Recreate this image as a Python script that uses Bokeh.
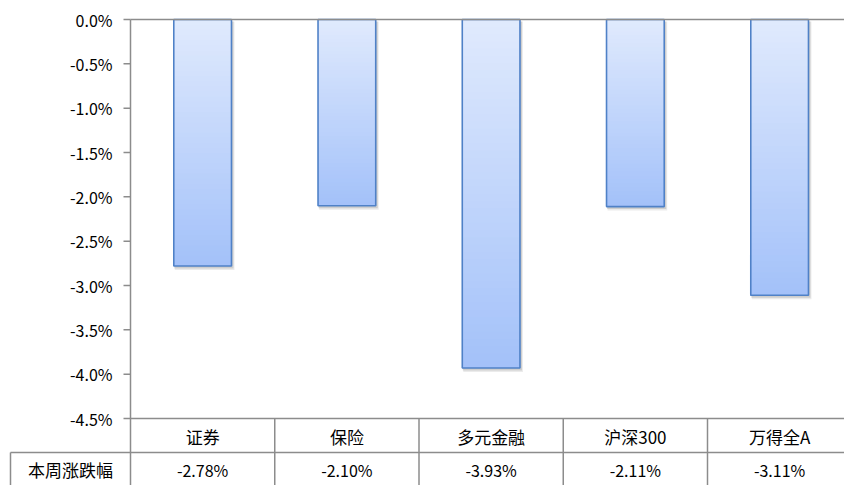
import numpy as np
from bokeh.plotting import figure
from bokeh.models import Range1d
from bokeh.embed import file_html
from bokeh.resources import INLINE
from bokeh.core.properties import value

# ---------------- data ----------------
categories = ["证券", "保险", "多元金融", "沪深300", "万得全A"]
changes = [-2.78, -2.10, -3.93, -2.11, -3.11]
row_label = "本周涨跌幅"
y_ticks = [0.0, -0.5, -1.0, -1.5, -2.0, -2.5, -3.0, -3.5, -4.0, -4.5]

# ---------------- geometry ----------------
W, H = 844, 485
PAGE_LEFT, PAGE_TOP = 0, 0
AXIS_X_PAGE, ZERO_Y_PAGE = 130, 19
PX_CAT = 144.25          # pixels per category
PX_PCT = 399 / 4.5       # pixels per 1 %

def dx(px):
    return px / PX_CAT

def dy(px):
    return px / PX_PCT

x_start = dx(PAGE_LEFT - AXIS_X_PAGE)
x_end = dx(PAGE_LEFT + W - AXIS_X_PAGE)
y_end = dy(ZERO_Y_PAGE - PAGE_TOP)
y_start = -dy(PAGE_TOP + H - ZERO_Y_PAGE)

FONT = value("Noto Sans CJK SC")
LINE = "#8c8c8c"
LW = 1.5

p = figure(width=W, height=H, output_backend="svg", toolbar_location=None,
           x_range=Range1d(x_start, x_end), y_range=Range1d(y_start, y_end),
           x_axis_location=None, y_axis_location=None,
           min_border=0, min_border_left=0, min_border_right=0,
           min_border_top=0, min_border_bottom=0)
p.outline_line_color = None
p.xgrid.visible = False
p.ygrid.visible = False
p.background_fill_color = "white"
p.border_fill_color = "white"

n = len(categories)
axis_bottom = min(y_ticks)
row_div = axis_bottom - dy(34)
row1_c = axis_bottom - dy(18)
row2_c = axis_bottom - dy(51)
tbl_left = dx(-120)

# ---------------- bars ----------------
half = 0.2
centers = [i + 0.5 for i in range(n)]

# shadow
p.quad(left=[c - half + dx(1) for c in centers], right=[c + half + dx(3) for c in centers],
       top=[-dy(2) for _ in centers], bottom=[v - dy(4) for v in changes],
       fill_color="#000000", fill_alpha=0.08, line_color=None)
p.quad(left=[c - half + dx(0.5) for c in centers], right=[c + half + dx(2) for c in centers],
       top=[-dy(2) for _ in centers], bottom=[v - dy(2.5) for v in changes],
       fill_color="#000000", fill_alpha=0.12, line_color=None)

top_rgb = np.array([0xe0, 0xea, 0xfd])
bot_rgb = np.array([0xa3, 0xc1, 0xf9])
N = 48
L, R, T, B, C = [], [], [], [], []
for c, v in zip(centers, changes):
    edges = np.linspace(0, v, N + 1)
    for k in range(N):
        t = (k + 0.5) / N
        rgb = (top_rgb * (1 - t) + bot_rgb * t).round().astype(int)
        L.append(c - half)
        R.append(c + half)
        T.append(edges[k])
        B.append(v)
        C.append("#%02x%02x%02x" % tuple(rgb))
p.quad(left=L, right=R, top=T, bottom=B, fill_color=C, line_color=None)
p.quad(left=[c - half for c in centers], right=[c + half for c in centers],
       top=[0 for _ in centers], bottom=changes,
       fill_color=None, line_color="#4f81c7", line_width=1.6)

# ---------------- axis & table lines ----------------
tick_len = dx(7)
# y axis line
p.segment(x0=[0], y0=[0], x1=[0], y1=[y_start], line_color=LINE, line_width=LW)
# ticks
p.segment(x0=[-tick_len] * len(y_ticks), y0=y_ticks, x1=[0] * len(y_ticks), y1=y_ticks,
          line_color=LINE, line_width=LW)
# top zero line and bottom axis line
p.segment(x0=[0, 0], y0=[0, axis_bottom], x1=[x_end, x_end], y1=[0, axis_bottom],
          line_color=LINE, line_width=LW)
# table row divider
p.segment(x0=[tbl_left], y0=[row_div], x1=[x_end], y1=[row_div], line_color=LINE, line_width=LW)
# table left border
p.segment(x0=[tbl_left], y0=[row_div], x1=[tbl_left], y1=[y_start], line_color=LINE, line_width=LW)
# category separators
seps = list(range(1, n + 1))
p.segment(x0=seps, y0=[axis_bottom] * len(seps), x1=seps, y1=[y_start] * len(seps),
          line_color=LINE, line_width=LW)

# ---------------- texts ----------------
p.text(x=[-dx(18)] * len(y_ticks), y=y_ticks, text=["%.1f%%" % t for t in y_ticks],
       text_font=FONT, text_font_size="16px", text_align="right", text_baseline="middle",
       text_color="#000000")
p.text(x=centers, y=[row1_c] * n, text=categories,
       text_font=FONT, text_font_size="17px", text_align="center", text_baseline="middle",
       text_color="#000000")
p.text(x=centers, y=[row2_c] * n, text=["%.2f%%" % v for v in changes],
       text_font=FONT, text_font_size="16px", text_align="center", text_baseline="middle",
       text_color="#000000")
p.text(x=[dx(-60)], y=[row2_c], text=[row_label],
       text_font=FONT, text_font_size="17px", text_align="center", text_baseline="middle",
       text_color="#000000")

open("out.html", "w").write(file_html(p, INLINE))
